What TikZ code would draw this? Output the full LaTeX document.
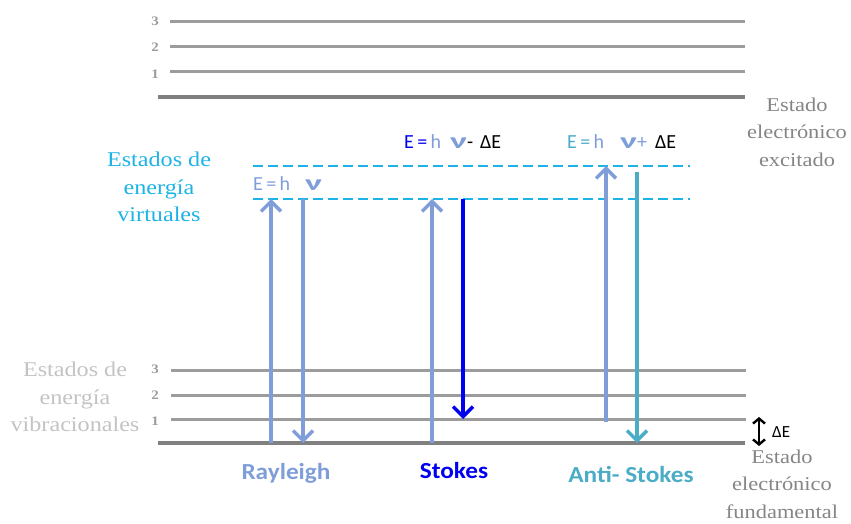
\documentclass[tikz,border=0pt]{standalone}
\usepackage{fontspec}
\usepackage{graphicx}
\setmainfont{Carlito}
\newfontfamily\serfont[FakeStretch=1.15]{Liberation Serif}
\newfontfamily\widefont[FakeStretch=1.1]{Carlito}
\usetikzlibrary{arrows.meta,positioning}
\definecolor{levelgray}{HTML}{9C9C9C}
\definecolor{basegray}{HTML}{808080}
\definecolor{virtcyan}{HTML}{1DB3E6}
\definecolor{photon}{HTML}{7F9ED9}
\definecolor{stokesblue}{HTML}{0000F0}
\definecolor{antiteal}{HTML}{4BACC6}
\definecolor{vibgray}{HTML}{C3C3C3}
\definecolor{statgray}{HTML}{858585}
\newcommand{\freqnu}{\textcolor{photon}{\scalebox{1.8}[1.1]{\textbf{ν}}}}
\tikzset{
  lvl/.style={draw=levelgray, line width=3pt},
  lvlbase/.style={draw=basegray, line width=3.6pt},
  virt/.style={draw=virtcyan, line width=2.6pt, dash pattern=on 10pt off 5pt},
  num/.style={font=\serfont\fontsize{13}{13}\selectfont\bfseries, text=levelgray, inner sep=0pt},
  statelabel/.style={font=\serfont\fontsize{21}{27.5}\selectfont, align=center, inner sep=0pt},
  sidelabel/.style={statelabel, font=\serfont\fontsize{19.5}{27.5}\selectfont, text=statgray},
  eqn/.style={font=\fontsize{20}{20}\selectfont, anchor=west, inner sep=0pt},
  scatname/.style={font=\widefont\bfseries\fontsize{23}{23}\selectfont, inner sep=0pt},
  trans/.style={line width=3.4pt, -{Straight Barb[length=10pt,width=20pt]}},
  gap/.style={line width=2.4pt, {Straight Barb[length=5pt,width=12pt]}-{Straight Barb[length=5pt,width=12pt]}}
}
\begin{document}
\begin{tikzpicture}[x=1pt, y=-1pt]
\useasboundingbox (0,0) rectangle (851,524);

% excited electronic state
\draw[lvl] (170,22) -- (745,22);
\draw[lvl] (170,47) -- (745,47);
\draw[lvl] (170,72) -- (745,72);
\draw[lvlbase] (158,97) -- (745,97);
\node[num] (ex3) at (155,21) {3};
\node[num] (ex2) at (155,47) {2};
\node[num] (ex1) at (155,74) {1};

% ground electronic state
\draw[lvl] (171,370) -- (746,370);
\draw[lvl] (171,395) -- (746,395);
\draw[lvl] (171,419) -- (746,419);
\draw[lvlbase] (158,443) -- (745,443);
\node[num] (gr3) at (155,369) {3};
\node[num] (gr2) at (155,395) {2};
\node[num] (gr1) at (155,421) {1};

% virtual states
\draw[virt] (253,166) -- (690,166);
\draw[virt] (253,199) -- (690,199);

\node[statelabel, text=virtcyan] (virtlab) at (159,187) {Estados de\\energía\\virtuales};
\node[statelabel, text=vibgray] (viblab) at (75,397) {Estados de\\energía\\vibracionales};
\node[sidelabel] (exclab) at (797,132) {Estado\\electrónico\\excitado};
\node[sidelabel] (fundlab) at (782,484) {Estado\\electrónico\\fundamental};

% energies
\node[eqn, text=photon] (eqray) at (253,184) {E\,=\,h\hspace{15pt}\freqnu};
\node[eqn] (eqstokes) at (404,142) {\textcolor{stokesblue}{E\,=}\,\textcolor{photon}{h}\hspace{9pt}\freqnu-\hspace{7pt}ΔE};
\node[eqn] (eqanti) at (567,142) {\textcolor{antiteal}{E\,=}\,\textcolor{photon}{h}\hspace{16pt}\freqnu\textcolor{photon}{+}\hspace{8pt}ΔE};

% transitions
\coordinate (rayA) at (271,443);
\coordinate (rayB) at (271,199);
\coordinate (rayC) at (303,199);
\coordinate (rayD) at (303,443);
\coordinate (stkA) at (432,443);
\coordinate (stkB) at (432,199);
\coordinate (stkC) at (463,199);
\coordinate (stkD) at (463,419);
\coordinate (antA) at (606,422);
\coordinate (antB) at (606,166);
\coordinate (antC) at (637,172);
\coordinate (antD) at (637,443);
\draw[trans, photon] (rayA) -- (rayB);
\draw[trans, photon] (rayC) -- (rayD);
\draw[trans, photon] (stkA) -- (stkB);
\draw[trans, stokesblue] (stkC) -- (stkD);
\draw[trans, photon] (antA) -- (antB);
\draw[trans, antiteal] (antC) -- (antD);

% vibrational gap
\coordinate (gapT) at (759,417);
\coordinate (gapB) at (759,446);
\draw[gap] (gapT) -- (gapB);
\node[eqn, font=\fontsize{17}{17}\selectfont] (gaplab) at (772,432) {ΔE};

\node[scatname, text=photon] (rayleigh) at (286,473) {Rayleigh};
\node[scatname, text=stokesblue] (stokes) at (454,471) {Stokes};
\node[scatname, text=antiteal] (antistokes) at (631,474) {Anti- Stokes};
\end{tikzpicture}
\end{document}
